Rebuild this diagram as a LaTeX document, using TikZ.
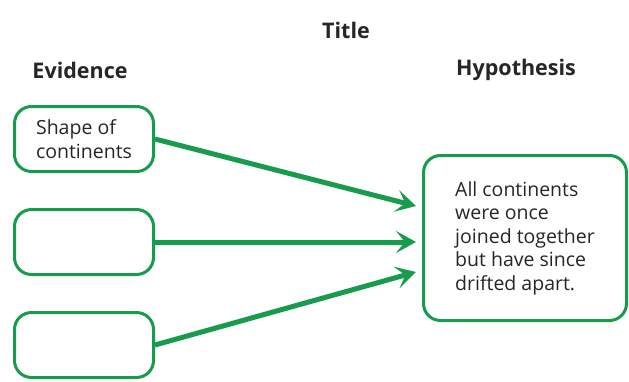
\documentclass[tikz,border=0pt]{standalone}
\usepackage{fontspec}
\setmainfont{Open Sans}
\usetikzlibrary{arrows.meta}
\definecolor{boxgreen}{RGB}{22,156,76}
\tikzset{
  evbox/.style={draw=boxgreen, line width=3pt, rounded corners=17pt,
    minimum width=139pt, minimum height=65pt, inner sep=0pt,
    font=\fontsize{19.5}{23.5}\selectfont, align=left, text=black!85},
  link/.style={draw=boxgreen, line width=5pt,
    -{Stealth[length=20pt, width=22pt, inset=9pt]}},
  heading/.style={font=\bfseries\fontsize{21.5}{26}\selectfont, text=black!85}
}
\begin{document}
\begin{tikzpicture}[x=1pt, y=-1pt]
  \useasboundingbox[fill=white] (0,0) rectangle (629,381);

  \node[heading] (title) at (346,30) {Title};
  \node[heading] (evidence) at (80,70) {Evidence};
  \node[heading] (hypothesis) at (516,70) {Hypothesis};

  \node[evbox] (shape) at (84,139) {Shape of\\continents};
  \node[evbox] (ev2) at (84,242) {};
  \node[evbox] (ev3) at (84,345) {};
  \node[evbox, minimum width=203pt, minimum height=165pt] (hyp) at (525,238)
    {All continents\\were once\\joined together\\but have since\\drifted apart.};

  % arrow tips sit just left of the hypothesis box
  \coordinate (tip1) at ([xshift=-6pt, yshift=32pt]hyp.west);
  \coordinate (tip2) at ([xshift=-6pt, yshift=-4pt]hyp.west);
  \coordinate (tip3) at ([xshift=-6pt, yshift=-34pt]hyp.west);

  \draw[link] (shape.east) -- (tip1);
  \draw[link] (ev2.east) -- (tip2);
  \draw[link] (ev3.east) -- (tip3);
\end{tikzpicture}
\end{document}
